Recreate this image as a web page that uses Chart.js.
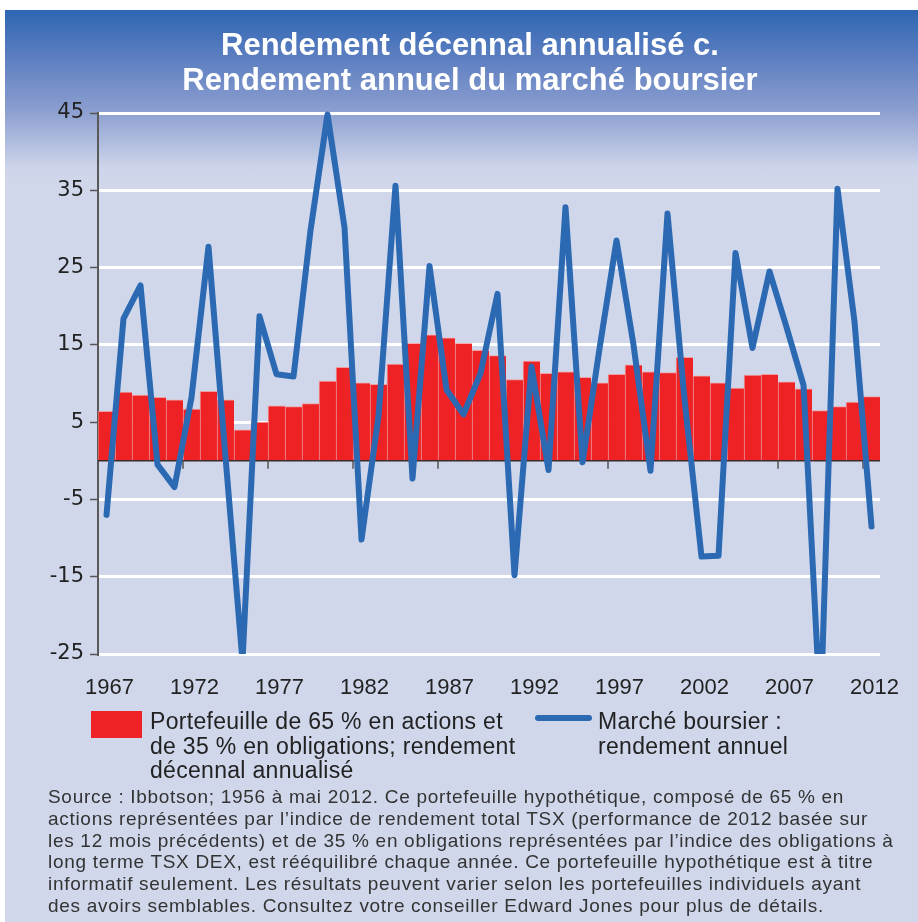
<!DOCTYPE html>
<html>
<head>
<meta charset="utf-8">
<script src="https://cdn.jsdelivr.net/npm/chart.js@4.4.1/dist/chart.umd.min.js"></script>
<style>
  html, body { margin:0; padding:0; background:#ffffff; width:918px; height:922px; overflow:hidden; }
  #panel { position:absolute; left:5px; top:10px; width:913px; height:912px;
    background: linear-gradient(to bottom, #2d66b2 0px, #5a7dc0 45px, #8b9ecf 100px, #b2bfe0 135px, #cdd4ea 157px, #d0d7eb 170px, #d0d7eb 100%); }
  #wrap { position:absolute; left:0; top:0; width:918px; height:922px; }
  #title { position:absolute; left:0; top:27px; width:940px; text-align:center; color:#fff;
    font-family:"Liberation Sans", Arial, sans-serif; font-weight:bold; font-size:31px; line-height:35px; }
  .leg { position:absolute; font-family:"Liberation Sans", Arial, sans-serif; font-size:23px; letter-spacing:0.3px; line-height:24.5px; color:#222; white-space:nowrap; }
  #src { position:absolute; left:48px; top:786px; font-family:"Liberation Sans", Arial, sans-serif; font-size:19px; letter-spacing:0.7px; line-height:21.8px; color:#333; white-space:nowrap; }
</style>
</head>
<body>
<div id="panel"></div>
<div id="wrap"><canvas id="c" width="918" height="922"></canvas></div>
<div id="title">Rendement décennal annualisé c.<br>Rendement annuel du marché boursier</div>
<div style="position:absolute;left:91px;top:711px;width:51px;height:27px;background:#ee2224;"></div>
<div class="leg" style="left:150px;top:709px;">Portefeuille de 65 % en actions et<br>de 35 % en obligations; rendement<br>décennal annualisé</div>
<div style="position:absolute;left:535px;top:715px;width:57px;height:6px;border-radius:3px;background:#2b69b3;"></div>
<div class="leg" style="left:598px;top:709px;">Marché boursier :<br>rendement annuel</div>
<div id="src">Source : Ibbotson; 1956 à mai 2012. Ce portefeuille hypothétique, composé de 65 % en<br>actions représentées par l’indice de rendement total TSX (performance de 2012 basée sur<br>les 12 mois précédents) et de 35 % en obligations représentées par l’indice des obligations à<br>long terme TSX DEX, est rééquilibré chaque année. Ce portefeuille hypothétique est à titre<br>informatif seulement. Les résultats peuvent varier selon les portefeuilles individuels ayant<br>des avoirs semblables. Consultez votre conseiller Edward Jones pour plus de détails.</div>
<script>
const years = ["1967","1968","1969","1970","1971","1972","1973","1974","1975","1976",
  "1977","1978","1979","1980","1981","1982","1983","1984","1985","1986",
  "1987","1988","1989","1990","1991","1992","1993","1994","1995","1996",
  "1997","1998","1999","2000","2001","2002","2003","2004","2005","2006",
  "2007","2008","2009","2010","2011","2012"];
const portfolioTenYear = [6.4,8.9,8.5,8.2,7.9,6.7,9.0,7.9,4.0,5.0,
  7.1,7.0,7.4,10.3,12.1,10.1,9.9,12.5,15.2,16.3,
  15.9,15.2,14.3,13.6,10.5,12.9,11.3,11.5,10.8,10.1,
  11.2,12.4,11.5,11.4,13.4,11.0,10.1,9.4,11.1,11.2,
  10.2,9.3,6.5,7.0,7.6,8.3];
const marketAnnual = [-7.0,18.4,22.7,-0.5,-3.4,8.2,27.7,0.5,-25.9,18.7,
  11.2,10.9,29.8,44.8,30.2,-10.2,5.8,35.6,-2.3,25.2,
  9.2,6.0,11.3,21.6,-14.8,12.2,-1.2,32.8,-0.2,14.5,
  28.5,15.0,-1.3,32.0,8.0,-12.4,-12.3,26.9,14.6,24.5,
  17.3,9.8,-33.0,35.2,18.0,-8.5];
const yTicks = [-25,-15,-5,5,15,25,35,45];
const shownYearLabels = ["1967","1972","1977","1982","1987","1992","1997","2002","2007","2012"];

const zeroLinePlugin = {
  id: 'zeroLine',
  afterDatasetDraw(chart, args) {
    if (args.index !== 1) return;
    const ctx = chart.ctx, x = chart.scales.x, y = chart.scales.y, a = chart.chartArea;
    const y0 = y.getPixelForValue(0);
    const step = x.getPixelForValue(1) - x.getPixelForValue(0);
    ctx.save();
    ctx.strokeStyle = '#3b2b2b';
    ctx.lineWidth = 1.5;
    ctx.beginPath(); ctx.moveTo(a.left, y0); ctx.lineTo(a.right, y0); ctx.stroke();
    ctx.strokeStyle = '#555';
    ctx.lineWidth = 1.5;
    years.forEach((yr, i) => {
      if (i > 0 && i % 5 === 0) {
        const px = x.getPixelForValue(i) - step / 2;
        ctx.beginPath(); ctx.moveTo(px, y0); ctx.lineTo(px, y0 + 8); ctx.stroke();
      }
    });
    ctx.restore();
  }
};

new Chart(document.getElementById('c'), {
  type: 'bar',
  data: {
    labels: years,
    datasets: [
      { type: 'line', label: 'Marché boursier : rendement annuel', data: marketAnnual,
        borderColor: '#2b69b3', borderWidth: 6, pointRadius: 0, tension: 0,
        borderJoinStyle: 'round', borderCapStyle: 'round', order: 0,
        clip: { left: 0, top: 6, right: 0, bottom: 0 } },
      { type: 'bar', label: 'Portefeuille 65/35', data: portfolioTenYear,
        backgroundColor: '#ee2224', borderColor: 'rgba(250,140,140,0.75)',
        borderWidth: { top: 1, left: 1, right: 0, bottom: 0 }, borderSkipped: false,
        barPercentage: 1, categoryPercentage: 1, order: 1 }
    ]
  },
  options: {
    responsive: false, animation: false,
    layout: { padding: { left: 10, right: 38, top: 113, bottom: 218 } },
    plugins: { legend: { display: false }, title: { display: false }, tooltip: { enabled: false } },
    scales: {
      x: {
        offset: true,
        grid: { display: false, drawTicks: false },
        border: { display: false },
        ticks: {
          autoSkip: false, maxRotation: 0, minRotation: 0, padding: 21, labelOffset: 3,
          color: '#222', font: { family: 'Liberation Sans', size: 22 },
          callback: function(v, i) { const l = years[i]; return shownYearLabels.includes(l) ? l : ''; }
        },
        afterFit: s => { s.height = 50; }
      },
      y: {
        min: -25, max: 45,
        afterBuildTicks: s => { s.ticks = yTicks.map(v => ({ value: v })); },
        grid: { color: '#ffffff', lineWidth: 3, tickColor: '#555', tickWidth: 1.5, tickLength: 8 },
        border: { display: true, color: '#5a5a5a', width: 2 },
        ticks: { padding: 6, color: '#222', font: { family: 'DejaVu Sans', size: 21 } },
        afterFit: s => { s.width = 88; }
      }
    }
  },
  plugins: [zeroLinePlugin]
});
</script>
</body>
</html>
